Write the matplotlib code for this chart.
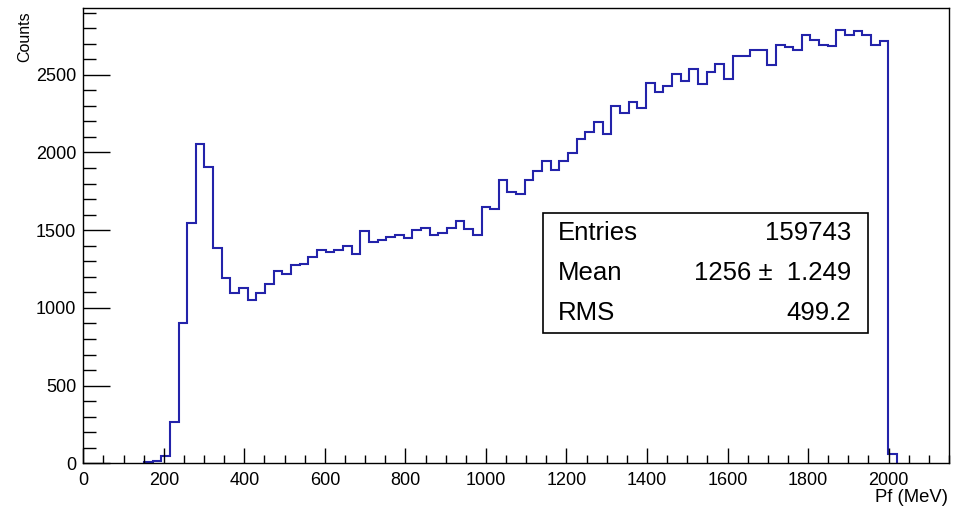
import numpy as np
import matplotlib
matplotlib.use("Agg")
import matplotlib.pyplot as plt
from matplotlib.ticker import MultipleLocator

plt.rcParams['font.family'] = ['Liberation Sans', 'DejaVu Sans']

# Histogram: 100 bins from 0 to 2150 MeV
x_min, x_max, n_bins = 0.0, 2150.0, 100
counts = [
    0, 0, 0, 0, 0, 0, 0, 8, 18, 50,
    268, 901, 1545, 2054, 1908, 1384, 1195, 1095, 1127, 1052,
    1095, 1153, 1238, 1217, 1273, 1283, 1330, 1373, 1359, 1373,
    1395, 1346, 1496, 1425, 1438, 1459, 1470, 1449, 1502, 1513,
    1470, 1481, 1513, 1560, 1508, 1470, 1646, 1635, 1820, 1745,
    1733, 1824, 1878, 1942, 1889, 1942, 1996, 2086, 2129, 2196,
    2120, 2296, 2254, 2327, 2286, 2450, 2387, 2430, 2507, 2462,
    2537, 2440, 2518, 2571, 2473, 2618, 2618, 2657, 2657, 2565,
    2694, 2681, 2661, 2758, 2726, 2694, 2683, 2790, 2758, 2779,
    2758, 2694, 2715, 60, 0, 0, 0, 0, 0, 0,
]
stat_labels = ["Entries", "Mean", "RMS"]
stat_values = ["159743", "1256 \u00b1  1.249", "499.2"]
x_title = "Pf (MeV)"
y_title = "Counts"

edges = np.linspace(x_min, x_max, n_bins + 1)
vals = np.asarray(counts, dtype=float)
nz = np.nonzero(vals)[0]
i0, i1 = nz[0], nz[-1] + 1

W, H = 962, 507
fig = plt.figure(figsize=(W / 100, H / 100), dpi=100)
L, R, T, B = 83.3, 949, 8, 463.3
ax = fig.add_axes([L / W, 1 - B / H, (R - L) / W, (B - T) / H])

ax.stairs(vals[i0:i1], edges[i0:i1 + 1], color='#2323aa', linewidth=1.5, baseline=0)
ax.set_xlim(x_min, x_max)
ax.set_ylim(0, 1.05 * max(counts))

ax.xaxis.set_major_locator(MultipleLocator(200))
ax.xaxis.set_minor_locator(MultipleLocator(50))
ax.yaxis.set_major_locator(MultipleLocator(500))
ax.yaxis.set_minor_locator(MultipleLocator(100))

px = 72 / 100
ax.tick_params(axis='x', which='major', direction='in', length=15 * px, width=1.0,
               labelsize=13, pad=6, top=False)
ax.tick_params(axis='x', which='minor', direction='in', length=8 * px, width=1.0, top=False)
ax.tick_params(axis='y', which='major', direction='in', length=27 * px, width=1.0,
               labelsize=13, pad=5, right=False)
ax.tick_params(axis='y', which='minor', direction='in', length=13.5 * px, width=1.0, right=False)
for s in ax.spines.values():
    s.set_linewidth(1.0)
    s.set_color('black')

fig.text(948 / W, 1 - 501.5 / H, x_title, ha='right', va='baseline', fontsize=13.3)
fig.text(25 / W, 1 - 11 / H, y_title, ha='center', va='top', rotation=90, fontsize=11.5)

# stats box
bx0, bx1, by0, by1 = 543, 868, 213, 333
box = plt.Rectangle((bx0 / W, 1 - by1 / H), (bx1 - bx0) / W, (by1 - by0) / H,
                    transform=fig.transFigure, facecolor='white', edgecolor='black',
                    linewidth=1.2, zorder=5)
fig.add_artist(box)
rows_y = [233, 273, 313]
for lab, val, yy in zip(stat_labels, stat_values, rows_y):
    fig.text(558 / W, 1 - yy / H, lab, ha='left', va='center', fontsize=18.5, zorder=6)
    fig.text(851 / W, 1 - yy / H, val, ha='right', va='center', fontsize=18.5, zorder=6)

fig.savefig("out.png", dpi=100)
